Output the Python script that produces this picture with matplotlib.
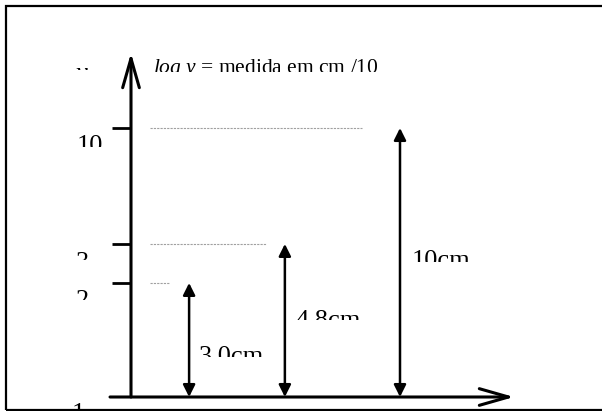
import matplotlib.pyplot as plt
from matplotlib.transforms import Bbox, TransformedBbox
from matplotlib.patches import Rectangle

# values on the y scale and where they sit on the drawn axis (axis units)
tick_values = ['1', '2', '3', '10']
tick_heights = [0, 4.24, 5.69, 10]

# measured arrows: label, x position, top height
arrow_labels = ['3.0cm', '4.8cm', '10cm']
arrow_x = [2.16, 5.72, 10.0]
arrow_tops = [4.24, 5.69, 10]
guide_ends = [1.41, 5.02, 8.59]

title = 'medida em cm /10'

plt.rcParams['font.family'] = ['Liberation Serif', 'DejaVu Serif']
plt.rcParams['mathtext.fontset'] = 'custom'
plt.rcParams['mathtext.rm'] = 'Liberation Serif'
plt.rcParams['mathtext.it'] = 'Liberation Serif:italic'

u = 26.9  # pixels per axis unit
fig = plt.figure(figsize=(6.02, 4.11), dpi=100)
ax = fig.add_axes([0, 0, 1, 1])
ax.set_xlim(-131 / u, (602 - 131) / u)
ax.set_ylim(-(411 - 397) / u, 397 / u)
ax.axis('off')

# frame of the text box (no right edge visible)
ax.add_patch(Rectangle((0.01, 0.0036), 1.2, 0.981, transform=ax.transAxes,
                       fill=False, lw=1.6, ec='black', clip_on=False))


def clipped_text(x, top, clip, s, size, ha='left', style='normal'):
    t = ax.text(x, top, s, ha=ha, va='top', fontsize=size, style=style)
    box = TransformedBbox(Bbox([[-10, clip], [30, top + 2]]), ax.transData)
    t.set_clip_box(box)
    t.set_clip_on(True)
    return t


# axes with open arrowheads
open_head = dict(arrowstyle='->,head_length=1.4,head_width=0.4', lw=2.2,
                 color='black', mutation_scale=15, shrinkA=0, shrinkB=0)
ax.annotate('', xy=(0, 12.79), xytext=(0, 0), arrowprops=open_head)
ax.annotate('', xy=(14.24, 0), xytext=(-0.78, 0), arrowprops=open_head)

# ticks
for h in tick_heights[1:]:
    ax.plot([-0.71, 0], [h, h], color='black', lw=2.0, solid_capstyle='butt')

# grey dotted guides
for h, xe in zip(tick_heights[1:], guide_ends):
    ax.plot([0.71, xe], [h, h], color='#a0a0a0', lw=0.8, ls=(0, (2, 1)))

# double arrows
for x, top in zip(arrow_x, arrow_tops):
    ax.annotate('', xy=(x, top), xytext=(x, 0),
                arrowprops=dict(arrowstyle='<|-|>', lw=1.8, color='black',
                                mutation_scale=18, shrinkA=0, shrinkB=0))

# tick labels (cut off at the bottom like in the original)
label_pos = [(-1.97, -0.22, -0.45), (-1.80, 3.98, 3.61),
             (-1.82, 5.39, 5.09), (-1.52, 9.74, 9.29)]
for s, (x, top, clip) in zip(tick_values, label_pos):
    clipped_text(x, top, clip, s, 19, ha='center')

clipped_text(-1.86, 12.42, 12.16, 'y', 19, ha='center', style='italic')
clipped_text(0.82, 12.64, 12.08, r'$log\ y$ = ' + title, 15.5)

text_pos = [(2.53, 1.90, 1.49), (6.10, 3.23, 2.86), (10.45, 5.46, 5.02)]
for s, (x, top, clip) in zip(arrow_labels, text_pos):
    clipped_text(x, top, clip, s, 19)

fig.savefig('out.png', dpi=100)
